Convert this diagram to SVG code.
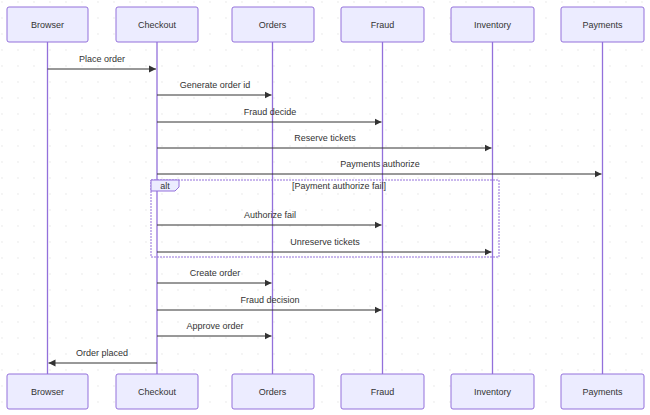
<svg xmlns="http://www.w3.org/2000/svg" width="650" height="415" viewBox="0 0 650 415">
<style>
.box{fill:#ECECFF;stroke:#9370DB;stroke-width:1}
.life{stroke:#9370DB;stroke-width:1.3}
text{font-family:"Liberation Sans",Arial,sans-serif;font-size:9px;fill:#333;text-anchor:middle}
.msg{stroke:#333;stroke-width:1;fill:none}
</style>
<defs>
<pattern id="dots" width="16" height="16" patternUnits="userSpaceOnUse"><circle cx="2" cy="2" r="0.7" fill="#e2e2e2"/></pattern>
<marker id="arr" markerWidth="8" markerHeight="8" refX="7" refY="4" orient="auto" markerUnits="userSpaceOnUse"><path d="M0,0.5 L7,4 L0,7.5 Z" fill="#333"/></marker>
</defs>
<rect width="650" height="415" fill="#fff"/>
<rect width="650" height="415" fill="url(#dots)"/>
<g id="lifelines">
<line class="life" x1="47.5" y1="42" x2="47.5" y2="374"/>
<line class="life" x1="157" y1="42" x2="157" y2="374"/>
<line class="life" x1="272.5" y1="42" x2="272.5" y2="374"/>
<line class="life" x1="382.5" y1="42" x2="382.5" y2="374"/>
<line class="life" x1="492.5" y1="42" x2="492.5" y2="374"/>
<line class="life" x1="602.5" y1="42" x2="602.5" y2="374"/>
</g>
<g id="alt">
<rect x="151" y="180" width="348" height="77" fill="none" stroke="#9370DB" stroke-width="1" stroke-dasharray="2,1"/>
<path d="M151,180 H179 V187 L175,191 H151 Z" fill="#ECECFF" stroke="#9370DB" stroke-width="1"/>
<text x="165" y="189">alt</text>
<text x="339" y="189">[Payment authorize fail]</text>
</g>
<g id="connectors">
<line class="msg" x1="47.5" y1="69" x2="156" y2="69" marker-end="url(#arr)"/><text x="102" y="62">Place order</text>
<line class="msg" x1="157" y1="95" x2="271.5" y2="95" marker-end="url(#arr)"/><text x="215" y="88">Generate order id</text>
<line class="msg" x1="157" y1="122" x2="381.5" y2="122" marker-end="url(#arr)"/><text x="270" y="115">Fraud decide</text>
<line class="msg" x1="157" y1="148" x2="491.5" y2="148" marker-end="url(#arr)"/><text x="325" y="141">Reserve tickets</text>
<line class="msg" x1="157" y1="174" x2="601.5" y2="174" marker-end="url(#arr)"/><text x="380" y="167">Payments authorize</text>
<line class="msg" x1="157" y1="225" x2="381.5" y2="225" marker-end="url(#arr)"/><text x="270" y="218">Authorize fail</text>
<line class="msg" x1="157" y1="252" x2="491.5" y2="252" marker-end="url(#arr)"/><text x="325" y="245">Unreserve tickets</text>
<line class="msg" x1="157" y1="283" x2="271.5" y2="283" marker-end="url(#arr)"/><text x="215" y="276">Create order</text>
<line class="msg" x1="157" y1="310" x2="381.5" y2="310" marker-end="url(#arr)"/><text x="270" y="303">Fraud decision</text>
<line class="msg" x1="157" y1="336" x2="271.5" y2="336" marker-end="url(#arr)"/><text x="215" y="329">Approve order</text>
<line class="msg" x1="157" y1="363" x2="48.5" y2="363" marker-end="url(#arr)"/><text x="102" y="356">Order placed</text>
</g>
<g id="browser"><rect class="box" x="7" y="7" width="81" height="35" rx="2"/><text x="47.5" y="28">Browser</text><rect class="box" x="7" y="374" width="81" height="35" rx="2"/><text x="47.5" y="395">Browser</text></g>
<g id="checkout"><rect class="box" x="116" y="7" width="82" height="35" rx="2"/><text x="157" y="28">Checkout</text><rect class="box" x="116" y="374" width="82" height="35" rx="2"/><text x="157" y="395">Checkout</text></g>
<g id="orders"><rect class="box" x="232" y="7" width="82" height="35" rx="2"/><text x="272.5" y="28">Orders</text><rect class="box" x="232" y="374" width="82" height="35" rx="2"/><text x="272.5" y="395">Orders</text></g>
<g id="fraud"><rect class="box" x="341" y="7" width="83" height="35" rx="2"/><text x="382.5" y="28">Fraud</text><rect class="box" x="341" y="374" width="83" height="35" rx="2"/><text x="382.5" y="395">Fraud</text></g>
<g id="inventory"><rect class="box" x="451" y="7" width="83" height="35" rx="2"/><text x="492.5" y="28">Inventory</text><rect class="box" x="451" y="374" width="83" height="35" rx="2"/><text x="492.5" y="395">Inventory</text></g>
<g id="payments"><rect class="box" x="561" y="7" width="83" height="35" rx="2"/><text x="602.5" y="28">Payments</text><rect class="box" x="561" y="374" width="83" height="35" rx="2"/><text x="602.5" y="395">Payments</text></g>
</svg>
